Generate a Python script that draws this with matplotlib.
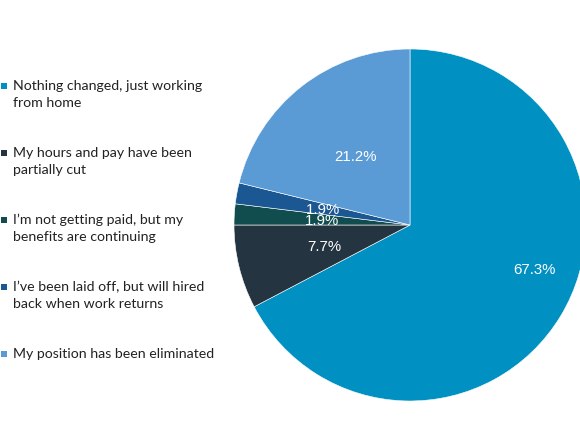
import numpy as np
import matplotlib
matplotlib.use("Agg")
import matplotlib.pyplot as plt
from matplotlib.patches import Rectangle

# 응답 데이터 (52명 기준)
labels = [
    "Nothing changed, just working\nfrom home",
    "My hours and pay have been\npartially cut",
    "I\u2019m not getting paid, but my\nbenefits are continuing",
    "I\u2019ve been laid off, but will hired\nback when work returns",
    "My position has been eliminated",
]
counts = [35, 4, 1, 1, 11]
colors = ["#0090C1", "#253441", "#114D4F", "#1B5893", "#5B9BD5"]

W, H = 580, 435
fig = plt.figure(figsize=(W / 100, H / 100), dpi=100)

# 파이 위치 (픽셀 기준 중심/반지름)
cx, cy, R = 410, 226, 176
ax = fig.add_axes([(cx - R) / W, (H - cy - R) / H, 2 * R / W, 2 * R / H])

wedges, texts, autotexts = ax.pie(
    counts, colors=colors, startangle=90, counterclock=False,
    autopct="%1.1f%%", pctdistance=0.5,
    wedgeprops=dict(edgecolor="white", linewidth=0.4),
    textprops=dict(color="white", fontsize=10.8, family="Liberation Sans"),
)
ax.set_xlim(-1, 1)
ax.set_ylim(-1, 1)
for w in wedges:
    w.set_clip_on(False)

# 큰 조각 라벨은 바깥쪽으로
w0 = wedges[0]
ang = np.deg2rad((w0.theta1 + w0.theta2) / 2 + 11.7)
autotexts[0].set_position((0.75 * np.cos(ang), 0.75 * np.sin(ang)))

# 범례 (수동)
for i, (lab, col) in enumerate(zip(labels, colors)):
    ytop = 80 + i * 67
    fig.patches.append(Rectangle((1 / W, 1 - (ytop + 10) / H), 6 / W, 6 / H,
                                 transform=fig.transFigure, facecolor=col,
                                 edgecolor="none"))
    fig.text(13 / W, 1 - ytop / H, lab, fontsize=10.2, family="Lato",
             color="#222222", va="top", ha="left", linespacing=1.5)

fig.savefig("out.png", dpi=100)
